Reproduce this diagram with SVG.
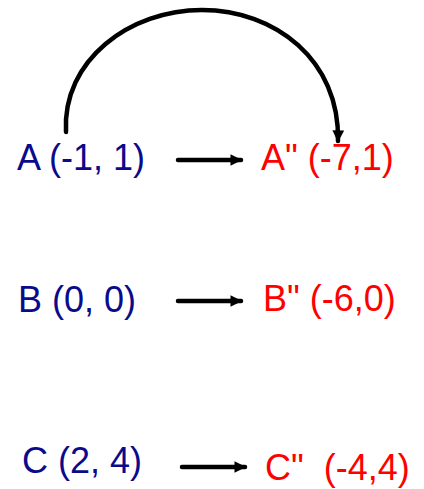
<svg xmlns="http://www.w3.org/2000/svg" width="424" height="489" viewBox="0 0 424 489">
<style>
.src{font-family:"Liberation Sans",Arial,sans-serif;font-size:36px;fill:#0a0a8c}
.dst{font-family:"Liberation Sans",Arial,sans-serif;font-size:36px;fill:#ff0000;white-space:pre}
.con{stroke:#000;stroke-width:4.5;fill:none;stroke-linecap:round}
</style>
<defs>
<marker id="ah" viewBox="0 0 10 10" refX="9" refY="5" markerWidth="3.2" markerHeight="2.6" orient="auto" markerUnits="strokeWidth">
<path d="M0,0 L10,5 L0,10 z" fill="#000"/>
</marker>
</defs>
<rect width="424" height="489" fill="#fff"/>
<g id="connectors">
<line class="con" x1="178" y1="160" x2="241" y2="160" marker-end="url(#ah)"/>
<line class="con" x1="178" y1="301" x2="241" y2="301" marker-end="url(#ah)"/>
<line class="con" x1="182" y1="467" x2="245" y2="467" marker-end="url(#ah)"/>
<path class="con" d="M66,132 C62,60 130,10 202,10 C275,10 340,60 338,141" marker-end="url(#ah)"/>
</g>
<g id="A"><text class="src" x="17" y="170">A (-1, 1)</text></g>
<g id="A2"><text class="dst" x="261" y="170">A" (-7,1)</text></g>
<g id="B"><text class="src" x="18" y="312">B (0, 0)</text></g>
<g id="B2"><text class="dst" x="263" y="311">B" (-6,0)</text></g>
<g id="C"><text class="src" x="22" y="473">C (2, 4)</text></g>
<g id="C2"><text class="dst" x="265" y="480" xml:space="preserve">C"  (-4,4)</text></g>
</svg>
